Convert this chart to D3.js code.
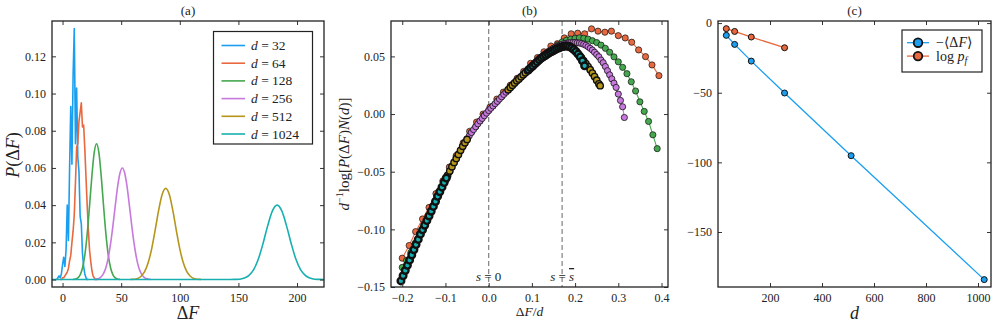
<!DOCTYPE html>
<html><head><meta charset="utf-8">
<script src="https://cdn.jsdelivr.net/npm/d3@7"></script>
<style>
body{margin:0;background:#fff}
svg text{font-family:"Liberation Serif","DejaVu Serif",serif;fill:#222}
</style>
</head><body>
<svg id="c" width="997" height="324"></svg>
<script>
// ---------------- DATA ----------------
const dims = [32, 64, 128, 256, 512, 1024];

// Panel (a): P(ΔF)
const a_dF_32 = [-6,-5,-4,-3,-2,-1,0,1,2,3,4,5,6,7,8,9,10,11,12,13,14,15,16,17,18,19,20,21,22];
const a_P_32  = [0,0,0.001,0.002,0.001,0.003,0.008,0.012,0.007,0.016,0.040,0.021,0.060,0.093,0.062,0.110,0.135,0.073,0.103,0.066,0.058,0.034,0.030,0.014,0.007,0.003,0.001,0,0];
const a_dF_64 = [-2,-1,0,1,2,3,4,5,6,7,8,9,10,11,12,13,14,15,16,17,18,19,20,21,22,23,24,25,26,27,28,29,30];
const a_P_64  = [0,0,0.001,0.001,0.002,0.003,0.004,0.006,0.010,0.013,0.020,0.026,0.035,0.052,0.071,0.073,0.085,0.090,0.095,0.082,0.083,0.070,0.055,0.040,0.027,0.016,0.010,0.005,0.002,0.001,0,0,0];
const a_dF_128 = [9,11,13,15,17,19,21,23,25,27,29,31,33,35,37,39,41,43,45,47,49];
const a_P_128  = [0.0001,0.0003,0.0009,0.0025,0.0062,0.0131,0.0244,0.0394,0.0555,0.0682,0.073,0.0682,0.0555,0.0394,0.0244,0.0131,0.0062,0.0025,0.0009,0.0003,0.0001];
const a_dF_256 = [27,29,31,33,35,37,39,41,43,45,47,49,51,53,55,57,59,61,63,65,67,69,71,73,75];
const a_P_256  = [0.0001,0.0003,0.0006,0.0015,0.0033,0.0065,0.0118,0.0194,0.0291,0.0399,0.0501,0.0573,0.060,0.0573,0.0501,0.0399,0.0291,0.0194,0.0118,0.0065,0.0033,0.0015,0.0006,0.0003,0.0001];
const a_dF_512 = [58,61,64,67,70,73,76,79,82,85,88,91,94,97,100,103,106,109,112,115,118];
const a_P_512  = [0.0001,0.0002,0.0006,0.0018,0.0042,0.0090,0.0165,0.0266,0.0373,0.0458,0.049,0.0458,0.0373,0.0266,0.0165,0.0090,0.0042,0.0018,0.0006,0.0002,0.0001];
const a_dF_1024 = [-12,140,147,151,155,159,163,167,171,175,179,183,187,191,195,199,203,207,211,215,219,226];
const a_P_1024  = [0,0,0.0001,0.0002,0.0008,0.0022,0.0053,0.0110,0.0194,0.0290,0.0369,0.040,0.0369,0.0290,0.0194,0.0110,0.0053,0.0022,0.0008,0.0002,0.0001,0];
const aXTicks = [0,50,100,150,200];
const aYTicks = [0,0.02,0.04,0.06,0.08,0.10,0.12];

// Panel (b): d^-1 log[P N] vs ΔF/d
const b_s_64 = [-0.200,-0.184,-0.169,-0.153,-0.138,-0.122,-0.106,-0.091,-0.075,-0.059,-0.044,-0.028,-0.013,0.003,0.019,0.034,0.050,0.066,0.081,0.097,0.113,0.128,0.144,0.159,0.175,0.191,0.206,0.222,0.238,0.253,0.269,0.284,0.300,0.316,0.331,0.347,0.363,0.378,0.394];
const b_v_64 = [-0.125,-0.114,-0.102,-0.091,-0.081,-0.069,-0.058,-0.046,-0.036,-0.025,-0.015,-0.007,0.000,0.006,0.013,0.019,0.025,0.031,0.037,0.044,0.049,0.054,0.059,0.061,0.066,0.0696,0.0701,0.0696,0.0739,0.0719,0.0710,0.0719,0.068,0.066,0.0623,0.0556,0.0498,0.0426,0.0333];
const b_s_128 = [-0.20,-0.19,-0.18,-0.17,-0.16,-0.15,-0.14,-0.13,-0.12,-0.11,-0.10,-0.09,-0.08,-0.07,-0.06,-0.05,-0.04,-0.03,-0.02,-0.01,0.00,0.01,0.02,0.03,0.04,0.05,0.06,0.07,0.08,0.09,0.10,0.11,0.12,0.13,0.14,0.15,0.16,0.17,0.18,0.19,0.20,0.21,0.22,0.23,0.24,0.25,0.26,0.27,0.28,0.29,0.30,0.31,0.32,0.33,0.34,0.35,0.36,0.37,0.38,0.39];
const b_v_128 = [-0.133,-0.127,-0.120,-0.112,-0.104,-0.097,-0.089,-0.081,-0.073,-0.065,-0.057,-0.050,-0.042,-0.035,-0.028,-0.022,-0.016,-0.011,-0.006,-0.001,0.003,0.007,0.011,0.015,0.019,0.023,0.027,0.031,0.034,0.038,0.041,0.045,0.048,0.051,0.054,0.057,0.060,0.0625,0.0640,0.0650,0.0657,0.0661,0.0657,0.0650,0.0636,0.0620,0.0598,0.0570,0.0536,0.0496,0.0453,0.0405,0.0350,0.0280,0.0200,0.0106,0.0023,-0.0064,-0.0180,-0.0300];
const b_s_256a = [-0.065,-0.060,-0.055,-0.050,-0.045,-0.040,-0.035,-0.030,-0.025,-0.020,-0.015,-0.010,-0.005,0.000,0.005,0.010,0.015,0.020,0.025,0.030,0.035,0.040,0.045,0.050,0.055];
const b_v_256a = [-0.0315,-0.028,-0.025,-0.022,-0.019,-0.016,-0.0135,-0.011,-0.0085,-0.006,-0.0038,-0.0015,0.0008,0.003,0.005,0.007,0.009,0.011,0.013,0.015,0.017,0.019,0.021,0.023,0.025];
const b_s_256b = [0.120,0.125,0.130,0.135,0.140,0.145,0.150,0.155,0.160,0.165,0.170,0.175,0.180,0.185,0.190,0.195,0.200,0.205,0.210,0.215,0.220,0.225,0.230,0.235,0.240,0.245,0.250,0.255,0.260,0.265,0.270,0.275,0.280,0.285,0.290,0.295,0.300,0.305,0.310,0.314];
const b_v_256b = [0.0490,0.0505,0.0520,0.0533,0.0548,0.0560,0.0571,0.0581,0.0590,0.0598,0.0605,0.0611,0.0614,0.0617,0.0619,0.0620,0.0620,0.0618,0.0616,0.0612,0.0605,0.0596,0.0584,0.0570,0.0555,0.0536,0.0516,0.0497,0.0468,0.0445,0.0412,0.0376,0.0340,0.0305,0.0268,0.0231,0.0173,0.0118,0.0063,-0.0030];
const b_s_512a = [-0.100,-0.095,-0.090,-0.085,-0.080,-0.075,-0.070,-0.065,-0.060,-0.055,-0.050];
const b_v_512a = [-0.057,-0.0532,-0.0495,-0.0457,-0.042,-0.0385,-0.035,-0.0315,-0.028,-0.025,-0.022];
const b_s_512b = [0.045,0.050,0.055,0.060,0.065,0.070,0.075,0.080,0.085,0.090,0.095,0.100,0.105,0.110,0.115,0.120,0.125,0.130,0.135,0.140,0.145,0.150,0.155,0.160,0.165,0.170,0.175,0.180,0.185,0.190,0.195,0.200,0.205,0.210,0.215,0.220,0.225,0.230,0.235,0.240,0.245,0.250,0.255,0.258];
const b_v_512b = [0.021,0.023,0.025,0.027,0.0288,0.0305,0.0323,0.034,0.0358,0.0375,0.0393,0.041,0.0428,0.0445,0.0463,0.048,0.0493,0.0505,0.0518,0.053,0.054,0.055,0.056,0.057,0.0578,0.0585,0.0588,0.0588,0.0585,0.0578,0.0565,0.0548,0.0528,0.0507,0.0485,0.0462,0.0438,0.0412,0.0385,0.0355,0.0325,0.0293,0.0262,0.0246];
const b_s_1024a = [-0.203,-0.198,-0.193,-0.188,-0.183,-0.178,-0.173,-0.168,-0.163,-0.158,-0.153,-0.148,-0.143,-0.138,-0.133,-0.128,-0.123,-0.118,-0.113,-0.108,-0.103,-0.098];
const b_v_1024a = [-0.1447,-0.1402,-0.1357,-0.1312,-0.1267,-0.1222,-0.1177,-0.1132,-0.1087,-0.1042,-0.1004,-0.0964,-0.0924,-0.0884,-0.0843,-0.0801,-0.0758,-0.0714,-0.0674,-0.0634,-0.0594,-0.0555];
const b_s_1024b = [0.092,0.097,0.102,0.107,0.112,0.117,0.122,0.127,0.132,0.137,0.142,0.147,0.152,0.157,0.162,0.167,0.172,0.177,0.182,0.187,0.192,0.197,0.202,0.207,0.212,0.217,0.222];
const b_v_1024b = [0.0382,0.040,0.0417,0.0435,0.0452,0.047,0.0485,0.0498,0.051,0.0523,0.0535,0.0545,0.0555,0.0565,0.0573,0.058,0.0586,0.059,0.059,0.0585,0.0575,0.056,0.0542,0.052,0.0495,0.0462,0.0418];
const bXTicks = [-0.2,-0.1,0,0.1,0.2,0.3,0.4];
const bYTicks = [-0.15,-0.10,-0.05,0,0.05];
const bMarkers = [0, 0.17];

// Panel (c)
const c_d = [32, 64, 128, 256, 512, 1024];
const c_negMeanDF = [-8.8, -15.3, -27.3, -50.2, -95.2, -184.2];
const c_d_pf = [32, 64, 128, 256];
const c_logPf = [-4.0, -6.0, -10.0, -17.7];
const cXTicks = [200,400,600,800,1000];
const cYTicks = [0,-50,-100,-150];

const colors = ["#1a9ff0","#e8693f","#45a84f","#c779dd","#b5961b","#18afb0"];

// ---------------- DRAWING ----------------
const svg = d3.select("#c");
const TOP = 21, BOT = 287;
let clipN = 0;

function panel(o) {
  const x = d3.scaleLinear().domain(o.xd).range([o.x0, o.x1]);
  const y = d3.scaleLinear().domain(o.yd).range([BOT, TOP]);
  const g = svg.append("g");
  const id = "clip" + (clipN++);
  svg.append("defs").append("clipPath").attr("id", id)
    .append("rect").attr("x", o.x0).attr("y", TOP).attr("width", o.x1 - o.x0).attr("height", BOT - TOP);
  const plot = g.append("g").attr("clip-path", `url(#${id})`);
  const style = s => { s.select(".domain").remove(); s.selectAll("line").attr("stroke", "#333"); s.selectAll("text").attr("font-size", "12px").attr("fill", "#222"); };
  const ax = g.append("g");
  ax.append("g").attr("transform", `translate(0,${BOT})`).call(d3.axisBottom(x).tickValues(o.xt).tickFormat(o.xf).tickSize(-4).tickPadding(6)).call(style);
  ax.append("g").attr("transform", `translate(0,${TOP})`).call(d3.axisTop(x).tickValues(o.xt).tickFormat("").tickSize(-4)).call(style);
  ax.append("g").attr("transform", `translate(${o.x0},0)`).call(d3.axisLeft(y).tickValues(o.yt).tickFormat(o.yf).tickSize(-4).tickPadding(6)).call(style);
  ax.append("g").attr("transform", `translate(${o.x1},0)`).call(d3.axisRight(y).tickValues(o.yt).tickFormat("").tickSize(-4)).call(style);
  const frame = () => g.append("rect").attr("x", o.x0).attr("y", TOP).attr("width", o.x1 - o.x0).attr("height", BOT - TOP)
    .attr("fill", "none").attr("stroke", "#222").attr("stroke-width", 1.3);
  return {x, y, g, plot, frame};
}
const zip = (a, b) => a.map((v, i) => [v, b[i]]);

// ---- Panel (a)
const A = panel({x0: 52, x1: 324, xd: [-9, 223], yd: [-0.004, 0.139], xt: aXTicks, yt: aYTicks, xf: d3.format("d"), yf: d3.format(".2f")});
const aSeries = [
  [a_dF_32, a_P_32, d3.curveLinear],
  [a_dF_64, a_P_64, d3.curveLinear],
  [a_dF_128, a_P_128, d3.curveMonotoneX],
  [a_dF_256, a_P_256, d3.curveMonotoneX],
  [a_dF_512, a_P_512, d3.curveMonotoneX],
  [a_dF_1024, a_P_1024, d3.curveMonotoneX]
];
aSeries.forEach((s, i) => {
  const line = d3.line().x(d => A.x(d[0])).y(d => A.y(d[1])).curve(s[2]);
  A.plot.append("path").attr("d", line(zip(s[0], s[1]))).attr("fill", "none")
    .attr("stroke", colors[i]).attr("stroke-width", 1.6).attr("stroke-linejoin", "round");
});
A.frame();
// legend (a)
const la = A.g.append("g");
la.append("rect").attr("x", 213.5).attr("y", 31.5).attr("width", 99).attr("height", 112.5).attr("fill", "#fff").attr("stroke", "#222").attr("stroke-width", 1.2);
dims.forEach((d, i) => {
  const yy = 45.5 + i * 17.7;
  la.append("line").attr("x1", 221.5).attr("x2", 245).attr("y1", yy).attr("y2", yy).attr("stroke", colors[i]).attr("stroke-width", 1.6);
  const t = la.append("text").attr("x", 251).attr("y", yy + 4.5).attr("font-size", "13.5px");
  t.append("tspan").attr("font-style", "italic").text("d");
  t.append("tspan").text(" = " + d);
});
svg.append("text").attr("x", 188).attr("y", 15).attr("text-anchor", "middle").attr("font-size", "13px").text("(a)");
{
  const t = svg.append("text").attr("x", 188).attr("y", 319).attr("text-anchor", "middle").attr("font-size", "18px");
  t.append("tspan").text("Δ"); t.append("tspan").attr("font-style", "italic").text("F");
  const ty = svg.append("text").attr("transform", "translate(19,155) rotate(-90)").attr("text-anchor", "middle").attr("font-size", "18px");
  ty.append("tspan").attr("font-style", "italic").text("P"); ty.append("tspan").text("(Δ"); ty.append("tspan").attr("font-style", "italic").text("F"); ty.append("tspan").text(")");
}

// ---- Panel (b)
const B = panel({x0: 391, x1: 668, xd: [-0.226, 0.415], yd: [-0.15, 0.0807], xt: bXTicks, yt: bYTicks, xf: d3.format(".1f"), yf: d3.format(".2f")});
bMarkers.forEach(m => {
  B.plot.append("line").attr("x1", B.x(m)).attr("x2", B.x(m)).attr("y1", TOP).attr("y2", BOT)
    .attr("stroke", "#8a8a8a").attr("stroke-width", 1.3).attr("stroke-dasharray", "5,3");
});
[["s = 0", 0], ["s = s̄", 0.17]].forEach(([lab, m], k) => {
  const t = B.g.append("text").attr("x", B.x(m)).attr("y", 281).attr("text-anchor", "middle").attr("font-size", "13px");
  t.append("tspan").attr("font-style", "italic").text("s");
  t.append("tspan").text(" = ");
  if (k === 0) t.append("tspan").text("0");
  else t.append("tspan").attr("font-style", "italic").attr("text-decoration", "overline").text("s");
});
const bSeries = [
  {c: colors[1], sw: 0.7, r: 3.1, segs: [[b_s_64, b_v_64]]},
  {c: colors[2], sw: 0.7, r: 3.1, segs: [[b_s_128, b_v_128]]},
  {c: colors[3], sw: 0.8, r: 3.1, segs: [[b_s_256a, b_v_256a], [b_s_256b, b_v_256b]]},
  {c: colors[4], sw: 1.4, r: 3.2, segs: [[b_s_512a, b_v_512a], [b_s_512b, b_v_512b]]},
  {c: colors[5], sw: 2.4, r: 3.3, segs: [[b_s_1024a, b_v_1024a], [b_s_1024b, b_v_1024b]]}
];
const bline = d3.line().x(d => B.x(d[0])).y(d => B.y(d[1]));
bSeries.forEach(s => {
  const gg = B.plot.append("g");
  s.segs.forEach(([xs, vs]) => {
    const pts = zip(xs, vs);
    gg.append("path").attr("d", bline(pts)).attr("fill", "none").attr("stroke", s.c).attr("stroke-width", 1.1);
    gg.selectAll(null).data(pts).enter().append("circle")
      .attr("cx", d => B.x(d[0])).attr("cy", d => B.y(d[1])).attr("r", s.r)
      .attr("fill", s.c).attr("stroke", "#111").attr("stroke-width", s.sw);
  });
});
B.frame();
svg.append("text").attr("x", 529.5).attr("y", 15).attr("text-anchor", "middle").attr("font-size", "13px").text("(b)");
{
  const t = svg.append("text").attr("x", 529.5).attr("y", 316).attr("text-anchor", "middle").attr("font-size", "13.5px");
  t.append("tspan").text("Δ"); t.append("tspan").attr("font-style", "italic").text("F"); t.append("tspan").text("/"); t.append("tspan").attr("font-style", "italic").text("d");
  const ty = svg.append("text").attr("transform", "translate(349,154) rotate(-90)").attr("text-anchor", "middle").attr("font-size", "15px");
  ty.append("tspan").attr("font-style", "italic").text("d");
  ty.append("tspan").attr("font-size", "10px").attr("dy", "-6").text("−1");
  ty.append("tspan").attr("dy", "6").text("log[");
  ty.append("tspan").attr("font-style", "italic").text("P");
  ty.append("tspan").text("(Δ");
  ty.append("tspan").attr("font-style", "italic").text("F");
  ty.append("tspan").text(")");
  ty.append("tspan").attr("font-style", "italic").text("N");
  ty.append("tspan").text("(");
  ty.append("tspan").attr("font-style", "italic").text("d");
  ty.append("tspan").text(")]");
}

// ---- Panel (c)
const C = panel({x0: 718, x1: 991, xd: [0, 1050], yd: [-189.5, 1.5], xt: cXTicks, yt: cYTicks, xf: d3.format("d"), yf: d3.format("d")});
const cSeries = [
  {xs: c_d, ys: c_negMeanDF, c: colors[0]},
  {xs: c_d_pf, ys: c_logPf, c: colors[1]}
];
const cline = d3.line().x(d => C.x(d[0])).y(d => C.y(d[1]));
cSeries.forEach(s => {
  const pts = zip(s.xs, s.ys);
  C.plot.append("path").attr("d", cline(pts)).attr("fill", "none").attr("stroke", s.c).attr("stroke-width", 1.3);
  C.plot.selectAll(null).data(pts).enter().append("circle")
    .attr("cx", d => C.x(d[0])).attr("cy", d => C.y(d[1])).attr("r", 3)
    .attr("fill", s.c).attr("stroke", "#111").attr("stroke-width", 1);
});
C.frame();
const lc = C.g.append("g");
lc.append("rect").attr("x", 902).attr("y", 30).attr("width", 80).attr("height", 42).attr("fill", "#fff").attr("stroke", "#222").attr("stroke-width", 1.2);
cSeries.forEach((s, i) => {
  const yy = 42.7 + i * 13.4;
  lc.append("line").attr("x1", 907).attr("x2", 929).attr("y1", yy).attr("y2", yy).attr("stroke", s.c).attr("stroke-width", 1.3);
  lc.append("circle").attr("cx", 918).attr("cy", yy).attr("r", 4.3).attr("fill", s.c).attr("stroke", "#111").attr("stroke-width", 1.8);
});
{
  const t1 = lc.append("text").attr("x", 936).attr("y", 47).attr("font-size", "14px");
  t1.append("tspan").text("−⟨Δ"); t1.append("tspan").attr("font-style", "italic").text("F"); t1.append("tspan").text("⟩");
  const t2 = lc.append("text").attr("x", 936).attr("y", 60.5).attr("font-size", "14px");
  t2.append("tspan").text("log "); t2.append("tspan").attr("font-style", "italic").text("p");
  t2.append("tspan").attr("font-style", "italic").attr("font-size", "10px").attr("dy", "3").text("f");
}
svg.append("text").attr("x", 854.5).attr("y", 15).attr("text-anchor", "middle").attr("font-size", "13px").text("(c)");
svg.append("text").attr("x", 854.5).attr("y", 319).attr("text-anchor", "middle").attr("font-size", "18px").attr("font-style", "italic").text("d");
</script>
</body></html>
